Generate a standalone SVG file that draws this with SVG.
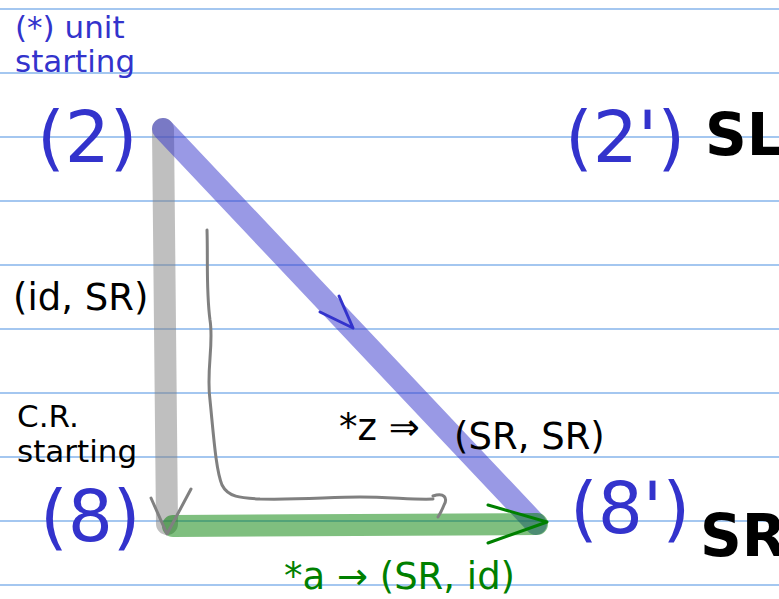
<svg xmlns="http://www.w3.org/2000/svg" width="779" height="599" viewBox="0 0 779 599">
<style>
.rule{stroke:#4a90e2;stroke-width:1.2}
.t{font-family:"DejaVu Sans",sans-serif}
.blue{fill:#3333cc}
.note{font-size:31px}
.lab{font-size:37px}
.big{font-size:71px}
.bold{font-size:58px;font-weight:bold;fill:#000}
.band{fill:none;stroke-width:22;stroke-linecap:round;stroke-opacity:0.5}
.head{fill:none;stroke-width:3;stroke-linecap:round;stroke-linejoin:round}
</style>
<rect width="779" height="599" fill="#fff"/>
<g id="rules">
<line class="rule" x1="0" y1="9" x2="779" y2="9"/>
<line class="rule" x1="0" y1="73" x2="779" y2="73"/>
<line class="rule" x1="0" y1="137" x2="779" y2="137"/>
<line class="rule" x1="0" y1="201" x2="779" y2="201"/>
<line class="rule" x1="0" y1="265" x2="779" y2="265"/>
<line class="rule" x1="0" y1="329" x2="779" y2="329"/>
<line class="rule" x1="0" y1="393" x2="779" y2="393"/>
<line class="rule" x1="0" y1="457" x2="779" y2="457"/>
<line class="rule" x1="0" y1="521" x2="779" y2="521"/>
<line class="rule" x1="0" y1="585" x2="779" y2="585"/>
</g>
<g id="connectors">
<line class="band" x1="163" y1="129" x2="167" y2="524" stroke="#808080"/>
<line class="band" x1="163" y1="129" x2="536" y2="524" stroke="#3333cc"/>
<line class="band" x1="173" y1="526" x2="537" y2="524" stroke="#008000"/>
<polyline class="head" points="320,312 353,328 339,296" stroke="#3333cc"/>
<polyline class="head" points="151,498 167,534 191,489" stroke="#808080"/>
<polyline class="head" points="488,505 547,522 488,543" stroke="#008000"/>
<path class="head" d="M207,230 C208,260 206,290 210,320 C214,345 206,370 210,400 C214,440 216,470 222,485 C228,497 240,498 260,499 C300,500 330,497 360,497 C390,497 415,500 433,499" stroke="#808080"/>
<path class="head" d="M433,496 C444,492 448,498 444,505 C442,510 440,514 438,517" stroke="#808080"/>
</g>
<g id="note" class="t note blue">
<text x="15" y="38">(*) unit</text>
<text x="15" y="72">starting</text>
</g>
<g id="n2"><text class="t big blue" x="37" y="162">(2)</text></g>
<g id="n2p"><text class="t big blue" x="565" y="162">(2')</text><text class="t bold" x="705" y="155">SL</text></g>
<g id="n8"><text class="t big blue" x="40" y="541">(8)</text></g>
<g id="n8p"><text class="t big blue" x="570" y="533">(8')</text><text class="t bold" x="700" y="556">SR</text></g>
<g id="labels" class="t">
<text class="lab" x="13" y="310">(id, SR)</text>
<text class="note" x="17" y="427">C.R.</text>
<text class="note" x="17" y="462">starting</text>
<text class="lab" x="339" y="440">*z ⇒</text>
<text class="lab" x="454" y="449">(SR, SR)</text>
<text class="lab" x="284" y="589" fill="#008000">*a → (SR, id)</text>
</g>
</svg>
